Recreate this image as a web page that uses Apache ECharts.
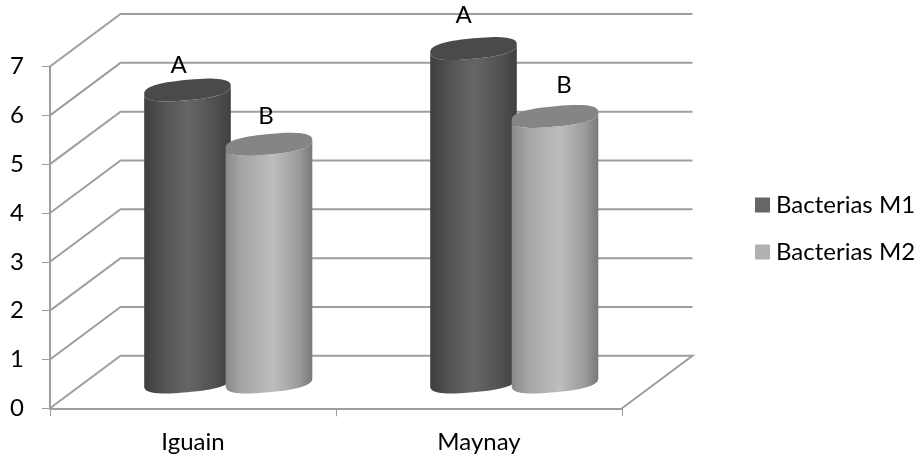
<!DOCTYPE html>
<html><head><meta charset="utf-8">
<style>html,body{margin:0;padding:0;background:#fff}#c{width:920px;height:459px}</style>
<script src="https://cdn.jsdelivr.net/npm/echarts@6/dist/echarts.min.js"></script>
</head><body><div id="c"></div>
<script>
const categories = ['Iguain', 'Maynay'];
const seriesNames = ['Bacterias M1', 'Bacterias M2'];
const m1Values = [5.98, 6.83];
const m2Values = [4.87, 5.44];
const m1Letters = ['A', 'A'];
const m2Letters = ['B', 'B'];
const yTicks = [0, 1, 2, 3, 4, 5, 6, 7];

// Oblique projection styling
const DEPTH_X = 70.5, DEPTH_Y = 52.5;
const AXIS_GREY = '#9e9e9e';
const FONT = 'Lato, "Open Sans", sans-serif';
const FONT_SIZE = 24;
const HALF_W = 43.3, TILT = -4, SEMI = 10.2, SPREAD = 40.75, ROUNDNESS = 0.78;
const letterShift = { 'Bacterias M1': [[-9, -25], [-10, -33]], 'Bacterias M2': [[-3, -28], [9, -31]] };

function ellipsePoints(cx, cy, from, to) {
  const pts = [];
  const n = 64;
  const pow = v => Math.sign(v) * Math.pow(Math.abs(v), ROUNDNESS);
  for (let i = 0; i <= n; i++) {
    const t = from + (to - from) * i / n;
    const c = pow(Math.cos(t)), s = pow(Math.sin(t));
    pts.push([cx + HALF_W * c, cy + TILT * c + SEMI * s]);
  }
  return pts;
}
function sideGradient(stops) {
  return { type: 'linear', x: 0, y: 0, x2: 1, y2: 0,
    colorStops: stops.map(s => ({ offset: s[0], color: s[1] })) };
}
function cylinderRenderer(side, bodyStops, topColor, letters, name) {
  return function (params, api) {
    const cat = api.value(0), val = api.value(1);
    const top = api.coord([cat, val]);
    const base = api.coord([cat, 0]);
    const cx = top[0] + DEPTH_X / 2 + side * SPREAD;
    const cyTop = top[1] - DEPTH_Y / 2;
    const cyBase = base[1] - DEPTH_Y / 2;
    const body = ellipsePoints(cx, cyBase, 0, Math.PI)
      .concat(ellipsePoints(cx, cyTop, Math.PI, 0));
    const shift = letterShift[name][params.dataIndex];
    return { type: 'group', children: [
      { type: 'polygon', shape: { points: body }, style: { fill: sideGradient(bodyStops) } },
      { type: 'polygon', shape: { points: ellipsePoints(cx, cyTop, 0, Math.PI * 2) }, style: { fill: topColor } },
      { type: 'text', x: cx + shift[0], y: cyTop + shift[1],
        style: { text: letters[params.dataIndex], font: FONT_SIZE + 'px ' + FONT, fill: '#000', align: 'center', verticalAlign: 'middle' } }
    ] };
  };
}
function wallRenderer(params, api) {
  const cs = params.coordSys;
  const y = api.coord([0, api.value(1)])[1];
  const pts = [[cs.x, y], [cs.x + DEPTH_X, y - DEPTH_Y], [cs.x + cs.width + DEPTH_X, y - DEPTH_Y]];
  if (api.value(1) === 0) pts.push([cs.x + cs.width, y]);
  return { type: 'polyline', shape: { points: pts },
    style: { stroke: AXIS_GREY, lineWidth: 2, fill: null } };
}

const darkStops = [[0, '#3e3e3e'], [0.25, '#555555'], [0.5, '#666666'], [0.8, '#525252'], [1, '#404040']];
const lightStops = [[0, '#8a8a8a'], [0.18, '#a4a4a4'], [0.55, '#bdbdbd'], [0.85, '#9a9a9a'], [1, '#787878']];

const chart = echarts.init(document.getElementById('c'), null, { renderer: 'canvas' });
chart.setOption({
  animation: false,
  backgroundColor: '#fff',
  grid: { left: 50, right: 298, top: 66.5, bottom: 50.7, containLabel: false },
  legend: {
    data: seriesNames, orient: 'vertical', left: 755, top: 193, padding: 0, icon: 'rect',
    itemWidth: 15, itemHeight: 15, itemGap: 23,
    textStyle: { fontFamily: FONT, fontSize: FONT_SIZE, color: '#000', padding: [0, 0, 0, 1] }
  },
  xAxis: {
    type: 'category', data: categories,
    axisLine: { lineStyle: { color: AXIS_GREY, width: 2 } },
    axisTick: { show: true, length: 8, lineStyle: { color: AXIS_GREY, width: 1 } },
    axisLabel: { fontFamily: FONT, fontSize: FONT_SIZE, color: '#000', margin: 22 },
    splitLine: { show: false }
  },
  yAxis: {
    type: 'value', min: 0, max: 7, interval: 1,
    axisLine: { show: true, lineStyle: { color: AXIS_GREY, width: 2 } },
    axisTick: { show: true, length: 8, lineStyle: { color: AXIS_GREY, width: 1 } },
    axisLabel: { fontFamily: FONT, fontSize: FONT_SIZE, color: '#000', margin: 26 },
    splitLine: { show: false }
  },
  series: [
    { type: 'custom', silent: true, z: 1, renderItem: wallRenderer,
      encode: { x: 0, y: 1 }, data: yTicks.map(v => [0, v]) },
    { type: 'custom', name: seriesNames[0], z: 2, itemStyle: { color: '#666666' },
      renderItem: cylinderRenderer(-1, darkStops, '#4a4a4a', m1Letters, seriesNames[0]),
      encode: { x: 0, y: 1 }, data: m1Values.map((v, i) => [i, v]) },
    { type: 'custom', name: seriesNames[1], z: 3, itemStyle: { color: '#b0b0b0' },
      renderItem: cylinderRenderer(1, lightStops, '#858585', m2Letters, seriesNames[1]),
      encode: { x: 0, y: 1 }, data: m2Values.map((v, i) => [i, v]) }
  ]
});
</script></body></html>
